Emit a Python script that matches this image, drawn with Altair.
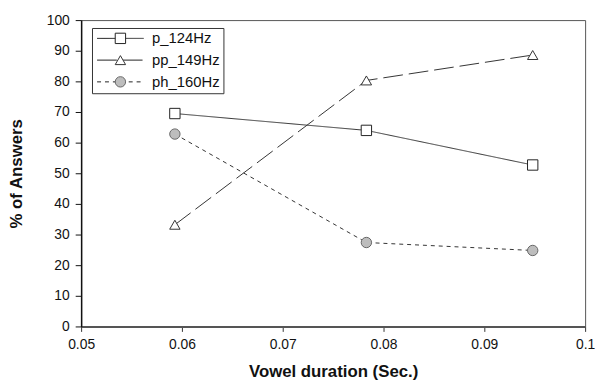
import altair as alt
import pandas as pd

series_names = ["p_124Hz", "pp_149Hz", "ph_160Hz"]
durations = [0.0593, 0.0783, 0.0948]
p_124 = [69.5, 64.0, 52.7]
pp_149 = [33.2, 80.3, 88.6]
ph_160 = [62.8, 27.4, 24.8]

marker_keys = [n + " mk" for n in series_names]

rows = []
for name, key, vals in zip(series_names, marker_keys, [p_124, pp_149, ph_160]):
    for x, y in zip(durations, vals):
        rows.append({"duration": x, "pct": y, "series": name, "series_b": key})
df = pd.DataFrame(rows)

FONT = "Liberation Sans"

x_enc = alt.X("duration:Q", scale=alt.Scale(domain=[0.05, 0.1], nice=False, zero=False),
              axis=alt.Axis(values=[0.05, 0.06, 0.07, 0.08, 0.09, 0.1], format=".2~f",
                            title="Vowel duration (Sec.)", grid=False, labelOverlap=False,
                            domainColor="#555", domainWidth=2, tickColor="#333", tickSize=5,
                            labelFontSize=14, labelFont=FONT, labelColor="#111", labelPadding=6,
                            titleFont=FONT, titleFontSize=17, titleFontWeight="bold",
                            titleColor="#111", titlePadding=13, labelFlush=False))
y_enc = alt.Y("pct:Q", scale=alt.Scale(domain=[0, 100], nice=False),
              axis=alt.Axis(values=list(range(0, 101, 10)), tickCount=11, title="% of Answers",
                            grid=False, labelOverlap=False,
                            domainColor="#111", domainWidth=1.5, tickColor="#111", tickSize=6,
                            labelFontSize=14, labelFont=FONT, labelColor="#111", labelPadding=6,
                            titleFont=FONT, titleFontSize=17, titleFontWeight="bold",
                            titleColor="#111", titlePadding=21))

LEG = dict(orient="none", legendX=11, legendY=8, title=None, symbolSize=110,
           symbolOffset=18.25, labelOffset=24.5, labelFont=FONT, labelFontSize=15,
           rowPadding=6, padding=3, labelLimit=200)

lines = alt.Chart(df).mark_line(strokeWidth=1, color="#333").encode(
    x=x_enc, y=y_enc,
    strokeDash=alt.StrokeDash("series:N",
        scale=alt.Scale(domain=series_names, range=[[1, 0], [20, 6], [4, 4]]),
        legend=alt.Legend(symbolType="M-4.5,0H4.5", symbolStrokeWidth=1,
                          symbolStrokeColor="#222", symbolFillColor="transparent",
                          labelColor="#111", strokeColor="#333", **LEG)),
)

points = alt.Chart(df).mark_point(filled=True, strokeWidth=1, opacity=1).encode(
    x=x_enc, y=y_enc,
    shape=alt.Shape("series_b:N",
        scale=alt.Scale(domain=marker_keys, range=["square", "triangle-up", "circle"]),
        legend=alt.Legend(symbolStrokeWidth=1, labelExpr="''", labelColor="#111", **LEG)),
    fill=alt.Fill("series_b:N",
        scale=alt.Scale(domain=marker_keys, range=["white", "white", "#bdbdbd"])),
    stroke=alt.Stroke("series_b:N",
        scale=alt.Scale(domain=marker_keys, range=["#222", "#333", "#666"])),
    size=alt.value(110),
)

chart = alt.layer(lines, points).properties(
    width=510, height=310,
    autosize=alt.AutoSizeParams(type="none"),
    padding={"left": 74, "top": 10, "right": 10, "bottom": 56},
    background="white",
).configure_view(stroke="#555", strokeWidth=1)

chart.save("out.html", embed_options={"renderer": "svg", "actions": False})
